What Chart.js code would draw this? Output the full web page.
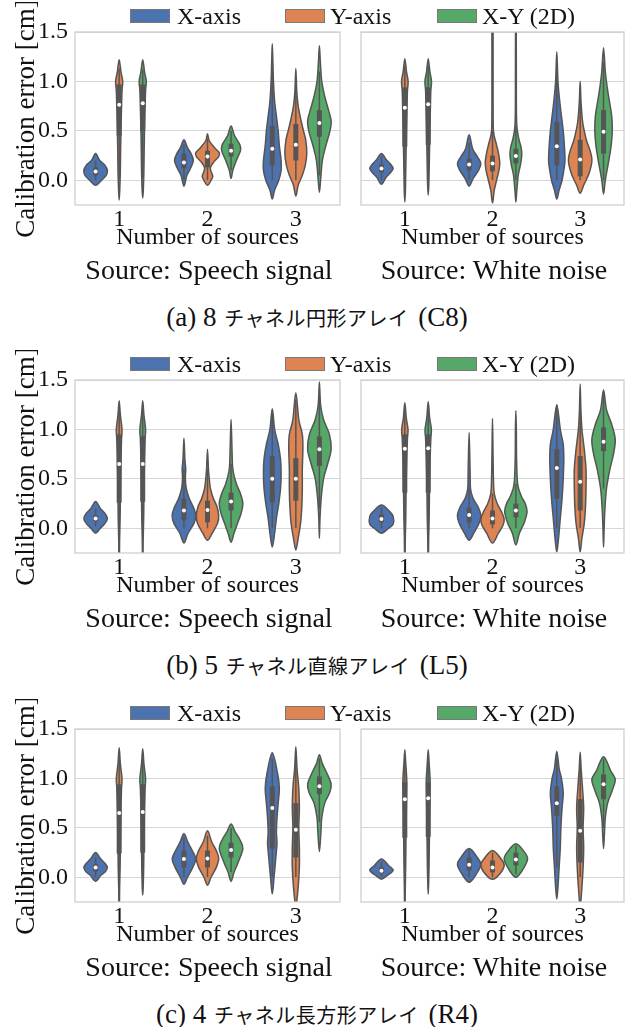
<!DOCTYPE html>
<html>
<head>
<meta charset="utf-8">
<script src="https://cdn.jsdelivr.net/npm/chart.js@4.4.0/dist/chart.umd.min.js"></script>
<style>
  body { margin: 0; background: #fff; }
  #page { position: relative; width: 634px; height: 1027px; overflow: hidden;
          font-family: "Liberation Serif", "Noto Sans CJK JP", serif; color: #111; }
  canvas { position: absolute; }
  .sw { position: absolute; width: 40px; height: 14px; box-sizing: border-box; border: 1px solid #777; }
  .lt { position: absolute; font-size: 24px; line-height: 28px; white-space: nowrap; }
  .sub { position: absolute; width: 320px; text-align: center; font-size: 28px; line-height: 34px; white-space: nowrap; }
  .cap { position: absolute; left: 0; width: 634px; text-align: center; font-size: 27px; line-height: 30px; white-space: nowrap; }
  .cap .jp { font-family: "Noto Sans CJK JP", sans-serif; font-size: 20px; letter-spacing: 0.5px; margin: 0 3px 0 1px; }
</style>
</head>
<body>
<div id="page"></div>
<script>
// categories / series / labels
var categories = ['1', '2', '3'];
var seriesNames = ['X-axis', 'Y-axis', 'X-Y (2D)'];
var seriesColors = ['#4C72B0', '#DD8452', '#55A868'];
var sourceNames = ['Source: Speech signal', 'Source: White noise'];
var arrayNames = ['(a) 8 チャネル円形アレイ (C8)', '(b) 5 チャネル直線アレイ (L5)', '(c) 4 チャネル長方形アレイ (R4)'];
var yTicks = [0.0, 0.5, 1.0, 1.5];

// rows = series (X, Y, X-Y), cols = number of sources (1, 2, 3)
// (a) C8, speech
var c8SpeechMedian = [[0.09, 0.18, 0.32], [0.765, 0.24, 0.36], [0.78, 0.30, 0.58]];
var c8SpeechQ1     = [[0.05, 0.12, 0.15], [0.45, 0.13, 0.20], [0.50, 0.24, 0.44]];
var c8SpeechQ3     = [[0.13, 0.27, 0.55], [0.97, 0.30, 0.57], [0.97, 0.37, 0.71]];
var c8SpeechLow    = [[0.00, 0.00, 0.00], [0.00, 0.00, 0.00], [0.02, 0.10, 0.05]];
var c8SpeechHigh   = [[0.20, 0.36, 1.10], [1.13, 0.42, 1.00], [1.12, 0.50, 1.10]];
// density outline: [error, relative density]
var c8SpeechDensity = [
  [[[-0.05,0],[0.0,0.5],[0.05,0.9],[0.1,1.0],[0.15,0.8],[0.2,0.35],[0.27,0]],
   [[-0.06,0],[0.05,0.25],[0.12,0.55],[0.2,0.8],[0.27,0.6],[0.33,0.3],[0.41,0]],
   [[-0.19,0],[-0.1,0.2],[0.0,0.55],[0.1,0.75],[0.2,0.75],[0.35,0.6],[0.5,0.5],[0.65,0.35],[0.8,0.2],[1.0,0.1],[1.2,0.05],[1.38,0]]],
  [[[-0.2,0],[-0.1,0.05],[0.1,0.1],[0.3,0.12],[0.5,0.15],[0.7,0.19],[0.9,0.24],[1.0,0.3],[1.1,0.15],[1.22,0]],
   [[-0.05,0],[0.0,0.3],[0.04,0.45],[0.09,0.3],[0.13,0.25],[0.18,0.5],[0.24,0.95],[0.28,1.0],[0.33,0.6],[0.4,0.15],[0.47,0]],
   [[-0.16,0],[-0.05,0.2],[0.05,0.55],[0.15,0.8],[0.27,0.93],[0.4,0.85],[0.5,0.65],[0.6,0.45],[0.75,0.2],[0.9,0.08],[1.13,0]]],
  [[[-0.18,0],[-0.1,0.05],[0.1,0.1],[0.3,0.12],[0.5,0.15],[0.7,0.19],[0.9,0.24],[1.0,0.3],[1.1,0.15],[1.22,0]],
   [[0.02,0],[0.1,0.15],[0.2,0.45],[0.3,0.8],[0.36,0.75],[0.45,0.3],[0.55,0]],
   [[-0.12,0],[0.0,0.1],[0.2,0.25],[0.35,0.55],[0.5,0.9],[0.6,1.0],[0.7,0.8],[0.85,0.45],[1.0,0.2],[1.2,0.08],[1.36,0]]]
];

// (a) C8, white noise
var c8NoiseMedian = [[0.12, 0.16, 0.345], [0.735, 0.17, 0.21], [0.77, 0.245, 0.49]];
var c8NoiseQ1     = [[0.08, 0.10, 0.15], [0.34, 0.09, 0.04], [0.36, 0.17, 0.27]];
var c8NoiseQ3     = [[0.16, 0.22, 0.59], [0.94, 0.25, 0.41], [0.94, 0.32, 0.71]];
var c8NoiseLow    = [[0.00, 0.00, 0.00], [0.00, 0.00, 0.00], [0.00, 0.00, 0.00]];
var c8NoiseHigh   = [[0.24, 0.38, 1.20], [1.15, 0.50, 0.90], [1.15, 0.55, 1.20]];
var c8NoiseDensity = [
  [[[-0.04,0],[0.03,0.4],[0.08,0.8],[0.12,1.0],[0.16,0.8],[0.21,0.4],[0.27,0]],
   [[-0.06,0],[0.02,0.35],[0.1,0.8],[0.17,1.0],[0.24,0.7],[0.32,0.3],[0.46,0]],
   [[-0.19,0],[-0.1,0.2],[0.0,0.45],[0.1,0.6],[0.2,0.7],[0.35,0.65],[0.5,0.55],[0.65,0.4],[0.8,0.25],[1.0,0.1],[1.3,0]]],
  [[[-0.22,0],[-0.1,0.05],[0.1,0.08],[0.3,0.11],[0.5,0.14],[0.7,0.18],[0.9,0.22],[1.0,0.28],[1.1,0.14],[1.23,0]],
   [[-0.23,0],[-0.1,0.15],[0.0,0.35],[0.1,0.55],[0.18,0.62],[0.28,0.5],[0.38,0.3],[0.5,0.08],[0.8,0.05],[1.2,0.05],[1.6,0.04]],
   [[-0.13,0],[-0.05,0.3],[0.05,0.7],[0.15,0.95],[0.22,1.0],[0.3,0.85],[0.4,0.55],[0.5,0.35],[0.6,0.2],[0.8,0.07],[1.0,0]]],
  [[[-0.15,0],[-0.05,0.05],[0.1,0.08],[0.3,0.11],[0.5,0.14],[0.7,0.18],[0.9,0.22],[1.0,0.28],[1.1,0.14],[1.23,0]],
   [[-0.22,0],[-0.1,0.08],[0.05,0.2],[0.15,0.38],[0.25,0.5],[0.33,0.45],[0.42,0.25],[0.55,0.08],[0.8,0.04],[1.6,0.03]],
   [[-0.14,0],[0.0,0.15],[0.2,0.45],[0.35,0.65],[0.5,0.75],[0.65,0.7],[0.8,0.5],[0.95,0.3],[1.1,0.15],[1.34,0]]]
];

// (b) L5, speech
var l5SpeechMedian = [[0.10, 0.18, 0.50], [0.65, 0.185, 0.50], [0.65, 0.27, 0.80]];
var l5SpeechQ1     = [[0.07, 0.08, 0.26], [0.26, 0.06, 0.28], [0.27, 0.18, 0.63]];
var l5SpeechQ3     = [[0.13, 0.30, 0.73], [0.95, 0.28, 0.71], [0.93, 0.36, 0.93]];
var l5SpeechLow    = [[0.02, 0.00, 0.00], [0.00, 0.00, 0.00], [0.00, 0.00, 0.20]];
var l5SpeechHigh   = [[0.20, 0.60, 1.15], [1.20, 0.60, 1.30], [1.20, 0.65, 1.35]];
var l5SpeechDensity = [
  [[[-0.05,0],[0.0,0.4],[0.05,0.8],[0.1,1.0],[0.15,0.8],[0.2,0.4],[0.27,0]],
   [[-0.15,0],[-0.05,0.35],[0.05,0.85],[0.13,1.0],[0.2,0.85],[0.3,0.45],[0.4,0.2],[0.5,0.12],[0.6,0.15],[0.7,0.08],[0.91,0]],
   [[-0.19,0],[-0.05,0.2],[0.1,0.35],[0.25,0.55],[0.4,0.7],[0.55,0.75],[0.7,0.7],[0.85,0.5],[1.0,0.2],[1.21,0]]],
  [[[-0.3,0.02],[-0.1,0.04],[0.1,0.08],[0.3,0.1],[0.5,0.12],[0.7,0.15],[0.9,0.2],[1.0,0.24],[1.15,0.1],[1.29,0]],
   [[-0.12,0],[-0.05,0.4],[0.05,0.85],[0.13,0.95],[0.22,0.8],[0.3,0.5],[0.4,0.25],[0.5,0.15],[0.6,0.08],[0.8,0]],
   [[-0.22,0],[-0.1,0.2],[0.05,0.4],[0.2,0.5],[0.4,0.55],[0.6,0.55],[0.8,0.6],[0.95,0.55],[1.1,0.25],[1.37,0]]],
  [[[-0.3,0.02],[-0.1,0.04],[0.1,0.08],[0.3,0.1],[0.5,0.12],[0.7,0.15],[0.9,0.2],[1.0,0.24],[1.15,0.1],[1.29,0]],
   [[-0.14,0],[-0.05,0.25],[0.05,0.55],[0.15,0.85],[0.25,1.0],[0.35,0.8],[0.45,0.45],[0.6,0.15],[0.8,0.08],[1.1,0]],
   [[-0.1,0],[0.1,0.05],[0.3,0.15],[0.5,0.35],[0.65,0.7],[0.8,1.0],[0.95,0.85],[1.1,0.35],[1.25,0.1],[1.48,0]]]
];

// (b) L5, white noise
var l5NoiseMedian = [[0.094, 0.134, 0.61], [0.805, 0.10, 0.47], [0.81, 0.18, 0.876]];
var l5NoiseQ1     = [[0.06, 0.06, 0.30], [0.36, 0.04, 0.18], [0.36, 0.11, 0.78]];
var l5NoiseQ3     = [[0.14, 0.21, 0.80], [0.95, 0.18, 0.73], [0.95, 0.25, 1.02]];
var l5NoiseLow    = [[0.00, 0.00, 0.00], [0.00, 0.00, 0.00], [0.00, 0.00, 0.40]];
var l5NoiseHigh   = [[0.21, 0.40, 1.25], [1.20, 0.35, 1.30], [1.20, 0.45, 1.38]];
var l5NoiseDensity = [
  [[[-0.05,0],[0.0,0.6],[0.04,1.0],[0.12,1.0],[0.17,0.7],[0.235,0]],
   [[-0.12,0],[-0.05,0.4],[0.05,0.85],[0.13,1.0],[0.22,0.75],[0.3,0.35],[0.4,0.12],[0.6,0.08],[0.97,0]],
   [[-0.24,0],[-0.1,0.15],[0.1,0.3],[0.3,0.45],[0.5,0.55],[0.7,0.6],[0.85,0.55],[1.0,0.3],[1.25,0]]],
  [[[-0.3,0.02],[-0.1,0.04],[0.1,0.08],[0.3,0.1],[0.5,0.12],[0.7,0.16],[0.9,0.22],[1.0,0.27],[1.12,0.12],[1.27,0]],
   [[-0.15,0],[-0.05,0.5],[0.03,0.9],[0.09,1.0],[0.16,0.8],[0.25,0.4],[0.35,0.15],[0.5,0.08],[0.8,0.04],[1.11,0]],
   [[-0.24,0],[-0.1,0.15],[0.05,0.35],[0.2,0.45],[0.4,0.5],[0.6,0.5],[0.8,0.35],[1.0,0.15],[1.2,0.06],[1.46,0]]],
  [[[-0.3,0.02],[-0.1,0.04],[0.1,0.08],[0.3,0.1],[0.5,0.12],[0.7,0.16],[0.9,0.22],[1.0,0.27],[1.12,0.12],[1.28,0]],
   [[-0.17,0],[-0.05,0.3],[0.05,0.7],[0.13,0.9],[0.18,0.95],[0.25,0.8],[0.33,0.45],[0.45,0.15],[0.7,0.06],[1.0,0.04],[1.19,0]],
   [[-0.19,0],[0.0,0.05],[0.2,0.12],[0.4,0.25],[0.6,0.55],[0.75,0.85],[0.9,1.0],[1.05,0.7],[1.2,0.25],[1.4,0]]]
];

// (c) R4, speech
var r4SpeechMedian = [[0.10, 0.185, 0.70], [0.65, 0.19, 0.48], [0.66, 0.275, 0.92]];
var r4SpeechQ1     = [[0.06, 0.10, 0.29], [0.24, 0.10, 0.20], [0.25, 0.20, 0.84]];
var r4SpeechQ3     = [[0.13, 0.27, 0.92], [0.94, 0.27, 0.75], [0.94, 0.35, 1.02]];
var r4SpeechLow    = [[0.00, 0.00, 0.00], [0.00, 0.00, 0.00], [0.00, 0.05, 0.56]];
var r4SpeechHigh   = [[0.20, 0.40, 1.20], [1.20, 0.42, 1.25], [1.20, 0.50, 1.20]];
var r4SpeechDensity = [
  [[[-0.04,0],[0.02,0.45],[0.06,0.85],[0.1,1.0],[0.14,0.8],[0.19,0.4],[0.25,0]],
   [[-0.07,0],[0.0,0.3],[0.1,0.75],[0.185,1.0],[0.26,0.75],[0.35,0.35],[0.44,0]],
   [[-0.17,0],[0.0,0.15],[0.2,0.3],[0.35,0.4],[0.45,0.35],[0.6,0.4],[0.75,0.5],[0.9,0.6],[1.05,0.45],[1.26,0]]],
  [[[-0.3,0.02],[-0.1,0.04],[0.1,0.08],[0.3,0.1],[0.5,0.12],[0.7,0.15],[0.9,0.2],[1.0,0.24],[1.15,0.1],[1.31,0]],
   [[-0.08,0],[0.0,0.3],[0.1,0.75],[0.19,0.95],[0.27,0.75],[0.36,0.35],[0.47,0]],
   [[-0.3,0.02],[-0.1,0.2],[0.1,0.3],[0.3,0.3],[0.5,0.25],[0.7,0.3],[0.9,0.25],[1.1,0.1],[1.32,0]]],
  [[[-0.18,0],[-0.1,0.04],[0.1,0.08],[0.3,0.1],[0.5,0.12],[0.7,0.15],[0.9,0.2],[1.0,0.24],[1.15,0.1],[1.3,0]],
   [[-0.04,0],[0.05,0.25],[0.15,0.6],[0.29,1.0],[0.38,0.75],[0.46,0.35],[0.54,0]],
   [[0.26,0],[0.4,0.1],[0.5,0.15],[0.6,0.2],[0.75,0.45],[0.85,0.85],[0.94,1.0],[1.05,0.65],[1.15,0.25],[1.24,0]]]
];

// (c) R4, white noise
var r4NoiseMedian = [[0.067, 0.128, 0.75], [0.79, 0.10, 0.47], [0.80, 0.18, 0.94]];
var r4NoiseQ1     = [[0.04, 0.07, 0.62], [0.40, 0.05, 0.15], [0.41, 0.12, 0.79]];
var r4NoiseQ3     = [[0.10, 0.20, 0.92], [0.96, 0.17, 0.79], [0.96, 0.25, 1.04]];
var r4NoiseLow    = [[0.00, 0.00, 0.10], [0.00, 0.00, 0.00], [0.05, 0.03, 0.50]];
var r4NoiseHigh   = [[0.16, 0.27, 1.20], [1.20, 0.25, 1.20], [1.20, 0.32, 1.20]];
var r4NoiseDensity = [
  [[[-0.02,0],[0.02,0.5],[0.07,1.0],[0.12,0.6],[0.185,0]],
   [[-0.05,0],[0.03,0.6],[0.13,1.0],[0.2,0.7],[0.29,0]],
   [[-0.22,0],[-0.1,0.1],[0.1,0.2],[0.3,0.3],[0.5,0.35],[0.7,0.45],[0.85,0.55],[1.0,0.4],[1.1,0.2],[1.275,0]]],
  [[[-0.3,0.02],[-0.1,0.04],[0.1,0.07],[0.3,0.09],[0.5,0.11],[0.7,0.13],[0.9,0.16],[1.0,0.16],[1.15,0.08],[1.29,0]],
   [[-0.02,0],[0.03,0.6],[0.12,1.0],[0.19,0.7],[0.27,0]],
   [[-0.3,0.02],[-0.1,0.15],[0.1,0.25],[0.3,0.3],[0.5,0.25],[0.7,0.3],[0.9,0.2],[1.1,0.08],[1.265,0]]],
  [[[-0.17,0],[-0.05,0.04],[0.1,0.07],[0.3,0.09],[0.5,0.11],[0.7,0.13],[0.9,0.16],[1.0,0.16],[1.15,0.08],[1.29,0]],
   [[0.0,0],[0.08,0.6],[0.185,1.0],[0.26,0.7],[0.34,0]],
   [[0.29,0],[0.45,0.08],[0.6,0.15],[0.75,0.35],[0.88,0.75],[0.99,1.0],[1.08,0.6],[1.22,0]]]
];

var panels = [
  [{median: c8SpeechMedian, q1: c8SpeechQ1, q3: c8SpeechQ3, low: c8SpeechLow, high: c8SpeechHigh, density: c8SpeechDensity},
   {median: c8NoiseMedian, q1: c8NoiseQ1, q3: c8NoiseQ3, low: c8NoiseLow, high: c8NoiseHigh, density: c8NoiseDensity}],
  [{median: l5SpeechMedian, q1: l5SpeechQ1, q3: l5SpeechQ3, low: l5SpeechLow, high: l5SpeechHigh, density: l5SpeechDensity},
   {median: l5NoiseMedian, q1: l5NoiseQ1, q3: l5NoiseQ3, low: l5NoiseLow, high: l5NoiseHigh, density: l5NoiseDensity}],
  [{median: r4SpeechMedian, q1: r4SpeechQ1, q3: r4SpeechQ3, low: r4SpeechLow, high: r4SpeechHigh, density: r4SpeechDensity},
   {median: r4NoiseMedian, q1: r4NoiseQ1, q3: r4NoiseQ3, low: r4NoiseLow, high: r4NoiseHigh, density: r4NoiseDensity}]
];

var GRAY = '#555555';
var DODGE = 0.8 / 3;       // seaborn hue dodge
var HALF = DODGE / 2;      // max half width of a violin
var FONT = {family: "'Liberation Serif', serif", size: 24};
var TITLE_FONT = {family: "'Liberation Serif', serif", size: 27};
var blockTop = [0, 348, 697];
// plot frame per side: left, right (page px); top/bottom relative to block
var frameX = [[75, 343], [361, 627]];
var frameTop = 32, frameBottom = 205;

Chart.defaults.font.family = "'Liberation Serif', serif";
Chart.defaults.color = '#111';

function xPos(h, c) { return c + 1 + (h - 1) * DODGE; }

// closed catmull-rom through the outline points
function smoothClosed(ctx, pts) {
  var n = pts.length;
  ctx.moveTo(pts[0][0], pts[0][1]);
  for (var i = 0; i < n; i++) {
    var p0 = pts[(i - 1 + n) % n], p1 = pts[i], p2 = pts[(i + 1) % n], p3 = pts[(i + 2) % n];
    var t = 1 / 6;
    ctx.bezierCurveTo(p1[0] + (p2[0] - p0[0]) * t, p1[1] + (p2[1] - p0[1]) * t,
                      p2[0] - (p3[0] - p1[0]) * t, p2[1] - (p3[1] - p1[1]) * t,
                      p2[0], p2[1]);
  }
  ctx.closePath();
}

function violinPlugin(panel) {
  return {
    id: 'violins',
    beforeDatasetsDraw: function(chart) {
      var ctx = chart.ctx, xs = chart.scales.x, ys = chart.scales.y, a = chart.chartArea;
      ctx.save();
      ctx.beginPath();
      ctx.rect(a.left, a.top, a.right - a.left, a.bottom - a.top);
      ctx.clip();
      for (var h = 0; h < 3; h++) {
        for (var c = 0; c < 3; c++) {
          var cx = xPos(h, c);
          var knots = panel.density[h][c];
          var right = knots.map(function(k) { return [xs.getPixelForValue(cx + k[1] * HALF), ys.getPixelForValue(k[0])]; });
          var left = knots.map(function(k) { return [xs.getPixelForValue(cx - k[1] * HALF), ys.getPixelForValue(k[0])]; }).reverse();
          if (knots[knots.length - 1][1] === 0) left.shift();
          if (knots[0][1] === 0) left.pop();
          ctx.beginPath();
          smoothClosed(ctx, right.concat(left));
          ctx.fillStyle = seriesColors[h];
          ctx.fill();
          ctx.lineWidth = 1.5;
          ctx.strokeStyle = GRAY;
          ctx.stroke();
          // box: whiskers + inter-quartile bar
          var px = xs.getPixelForValue(cx);
          ctx.lineCap = 'butt';
          ctx.beginPath();
          ctx.moveTo(px, ys.getPixelForValue(panel.low[h][c]));
          ctx.lineTo(px, ys.getPixelForValue(panel.high[h][c]));
          ctx.lineWidth = 1.5;
          ctx.stroke();
          ctx.beginPath();
          ctx.moveTo(px, ys.getPixelForValue(panel.q1[h][c]));
          ctx.lineTo(px, ys.getPixelForValue(panel.q3[h][c]));
          ctx.lineWidth = 5;
          ctx.stroke();
        }
      }
      ctx.restore();
    },
    afterDraw: function(chart) {
      var ctx = chart.ctx, a = chart.chartArea;
      ctx.save();
      ctx.strokeStyle = '#cfcfcf';
      ctx.lineWidth = 1.3;
      ctx.strokeRect(a.left, a.top, a.right - a.left, a.bottom - a.top);
      ctx.restore();
    }
  };
}

function makePanel(page, b, s) {
  var isLeft = s === 0;
  var panel = panels[b][s];
  var oy = blockTop[b];
  var cv = document.createElement('canvas');
  var cvLeft = isLeft ? 0 : 350;
  var w = isLeft ? 350 : 284, hgt = 260;
  cv.width = w; cv.height = hgt;
  cv.style.left = cvLeft + 'px';
  cv.style.top = oy + 'px';
  cv.style.width = w + 'px'; cv.style.height = hgt + 'px';
  page.appendChild(cv);

  var medians = [];
  for (var h = 0; h < 3; h++) for (var c = 0; c < 3; c++) medians.push({x: xPos(h, c), y: panel.median[h][c]});

  var chart = new Chart(cv, {
    type: 'scatter',
    data: {
      datasets: [{
        data: medians,
        pointRadius: 2,
        pointBackgroundColor: '#ffffff',
        pointBorderWidth: 0,
        clip: false
      }]
    },
    options: {
      responsive: false,
      animation: false,
      devicePixelRatio: 1,
      events: [],
      layout: {padding: {top: 30, right: cvLeft + w - frameX[s][1], left: isLeft ? 0 : frameX[s][0] - cvLeft, bottom: 0}},
      plugins: {legend: {display: false}, tooltip: {enabled: false}},
      scales: {
        x: {
          type: 'linear', min: 0.5, max: 3.5,
          afterBuildTicks: function(sc) { sc.ticks = categories.map(function(c, i) { return {value: i + 1}; }); },
          afterFit: function(sc) { sc.height = 55; },
          ticks: {font: FONT, padding: 0, maxRotation: 0, autoSkip: false,
                  callback: function(v, i) { return categories[i]; }},
          grid: {display: false, drawTicks: false},
          border: {display: false},
          title: {display: true, text: 'Number of sources', font: FONT, padding: {top: 0, bottom: 8}}
        },
        y: {
          type: 'linear', min: -0.25, max: 1.5,
          afterBuildTicks: function(sc) { sc.ticks = yTicks.map(function(v) { return {value: v}; }); },
          afterFit: function(sc) { sc.width = isLeft ? frameX[0][0] : 0; },
          ticks: {display: isLeft, font: FONT, padding: 7,
                  callback: function(v) { return v.toFixed(1); }},
          grid: {color: '#d6d6d6', lineWidth: 1, drawTicks: false},
          border: {display: false},
          title: {display: isLeft, text: 'Calibration error [cm]', font: TITLE_FONT, padding: {top: 11, bottom: 0}}
        }
      }
    },
    plugins: [violinPlugin(panel)]
  });

  // fit the plot frame to the wanted height, then place it on the page
  var ca = chart.chartArea;
  var want = frameBottom - frameTop;
  var newH = Math.round(hgt + want - (ca.bottom - ca.top));
  if (newH !== hgt) {
    chart.resize(w, newH);
    cv.style.height = newH + 'px';
  }
  ca = chart.chartArea;
  cv.style.top = (oy + frameTop - ca.top) + 'px';
}

function addDiv(page, cls, text, left, top) {
  var d = document.createElement('div');
  d.className = cls;
  d.textContent = text;
  if (left !== null) d.style.left = left + 'px';
  d.style.top = top + 'px';
  page.appendChild(d);
  return d;
}

function addCaption(page, text, top) {
  var d = addDiv(page, 'cap', '', null, top);
  text.split(/([\u3040-\u30ff\u4e00-\u9fff]+)/).forEach(function(run) {
    if (!run) return;
    var sp = document.createElement('span');
    if (/[\u3040-\u30ff\u4e00-\u9fff]/.test(run)) sp.className = 'jp';
    sp.textContent = run;
    d.appendChild(sp);
  });
}

var page = document.getElementById('page');
var swatchLeft = [130, 285, 437];
var labelLeft = [177, 330, 482];
var subCenter = [209, 494];

for (var b = 0; b < 3; b++) {
  var oy = blockTop[b];
  makePanel(page, b, 0);
  makePanel(page, b, 1);
  for (var h = 0; h < 3; h++) {
    var sw = addDiv(page, 'sw', '', swatchLeft[h], oy + 9);
    sw.style.background = seriesColors[h];
    addDiv(page, 'lt', seriesNames[h], labelLeft[h], oy + 2);
  }
  for (var s = 0; s < 2; s++) addDiv(page, 'sub', sourceNames[s], subCenter[s] - 160, oy + 253);
  addCaption(page, arrayNames[b], oy + 302);
}
</script>
</body>
</html>
